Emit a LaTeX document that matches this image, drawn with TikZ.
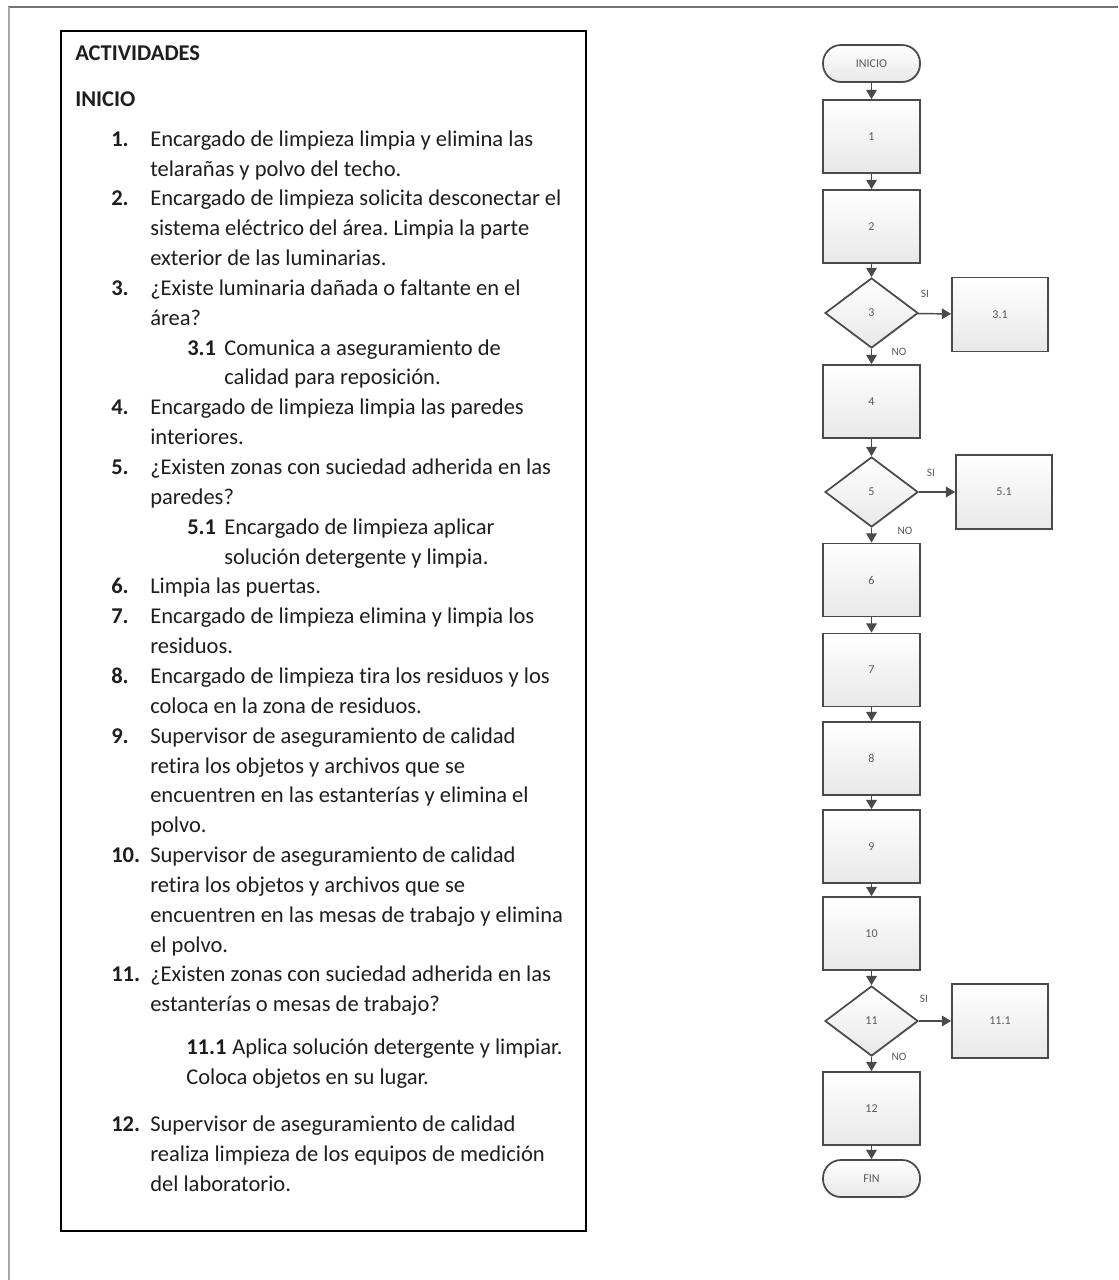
\documentclass[tikz,border=0pt]{standalone}
\usepackage{fontspec}
\setmainfont{Carlito}[Ligatures=NoCommon]
\usetikzlibrary{shapes.geometric,arrows.meta,shadows}
\definecolor{bordc}{HTML}{4A4A4A}
\definecolor{flowtxt}{HTML}{5A5A5A}
\definecolor{txtc}{HTML}{1E1E1E}
\frenchspacing
\begin{document}
\begin{tikzpicture}[x=0.75pt,y=-0.75pt,
  ln/.style={anchor=mid west,inner sep=0pt,text=txtc,font=\fontsize{16.9}{20}\selectfont},
  hd/.style={anchor=base west,inner sep=0pt,text=txtc,font=\fontsize{16.9}{20}\selectfont\bfseries},
  fbase/.style={draw=bordc,line width=1.3pt,top color=white,bottom color=black!9,
     text=flowtxt,font=\fontsize{9}{10}\selectfont,inner sep=0pt,
     drop shadow={shadow xshift=0.7pt,shadow yshift=-0.7pt,opacity=0.25}},
  proc/.style={fbase,rectangle,minimum width=72.75pt,minimum height=54.75pt},
  side/.style={fbase,rectangle,minimum width=72pt,minimum height=55.5pt},
  term/.style={fbase,rectangle,rounded corners=13.5pt,minimum width=72.75pt,minimum height=27.75pt},
  dec/.style={fbase,diamond,minimum width=69.75pt,minimum height=52.5pt},
  arr/.style={draw=bordc,line width=1.1pt,-{Triangle[width=8pt,length=7pt]}},
  lbl/.style={text=flowtxt,font=\fontsize{8.5}{9}\selectfont,inner sep=0pt}]
\useasboundingbox (0,0) rectangle (1118,1280);
\fill[white] (0,0) rectangle (1118,1280);
% page frame
\draw[black!55,line width=1.6pt] (8,7) -- (1118,7);
\draw[black!35,line width=2.2pt] (9,7) -- (9,1280);
% text box
\draw[black,line width=1.5pt] (61,31) rectangle (586,1231);

\node[hd] (hact) at (75,61) {ACTIVIDADES};
\node[hd] (hini) at (75,107) {INICIO};

\newcommand{\NumL}[4]{\node[ln,font=\fontsize{16.9}{20}\selectfont\bfseries] (#1n) at (111,#2) {#3};
  \node[ln] (#1t) at (150,#2) {#4};}
\newcommand{\SubL}[4]{\node[ln,font=\fontsize{16.9}{20}\selectfont\bfseries] (#1n) at (187,#2) {#3};
  \node[ln] (#1t) at (224,#2) {#4};}

\NumL{a1}{143.0}{1.}{Encargado de limpieza limpia y elimina las}
\node[ln] (a1b) at (150,172.9) {telarañas y polvo del techo.};
\NumL{a2}{202.7}{2.}{Encargado de limpieza solicita desconectar el}
\node[ln] (a2b) at (150,232.6) {sistema eléctrico del área. Limpia la parte};
\node[ln] (a2c) at (150,262.4) {exterior de las luminarias.};
\NumL{a3}{292.3}{3.}{¿Existe luminaria dañada o faltante en el}
\node[ln] (a3b) at (150,322.1) {área?};
\SubL{a31}{352.0}{3.1}{Comunica a aseguramiento de}
\node[ln] (a31b) at (224,381.8) {calidad para reposición.};
\NumL{a4}{411.7}{4.}{Encargado de limpieza limpia las paredes}
\node[ln] (a4b) at (150,441.5) {interiores.};
\NumL{a5}{471.4}{5.}{¿Existen zonas con suciedad adherida en las}
\node[ln] (a5b) at (150,501.2) {paredes?};
\SubL{a51}{531.1}{5.1}{Encargado de limpieza aplicar}
\node[ln] (a51b) at (224,560.9) {solución detergente y limpia.};
\NumL{a6}{590.8}{6.}{Limpia las puertas.}
\NumL{a7}{620.6}{7.}{Encargado de limpieza elimina y limpia los}
\node[ln] (a7b) at (150,650.5) {residuos.};
\NumL{a8}{680.3}{8.}{Encargado de limpieza tira los residuos y los}
\node[ln] (a8b) at (150,710.2) {coloca en la zona de residuos.};
\NumL{a9}{740.0}{9.}{Supervisor de aseguramiento de calidad}
\node[ln] (a9b) at (150,769.9) {retira los objetos y archivos que se};
\node[ln] (a9c) at (150,799.7) {encuentren en las estanterías y elimina el};
\node[ln] (a9d) at (150,829.6) {polvo.};
\NumL{a10}{859.4}{10.}{Supervisor de aseguramiento de calidad}
\node[ln] (a10b) at (150,889.3) {retira los objetos y archivos que se};
\node[ln] (a10c) at (150,919.1) {encuentren en las mesas de trabajo y elimina};
\node[ln] (a10d) at (150,949.0) {el polvo.};
\NumL{a11}{978.8}{11.}{¿Existen zonas con suciedad adherida en las}
\node[ln] (a11b) at (150,1008.7) {estanterías o mesas de trabajo?};
\node[ln,font=\fontsize{16.9}{20}\selectfont\bfseries] (a111n) at (186,1051) {11.1};
\node[ln] (a111t) at (232,1051) {Aplica solución detergente y limpiar.};
\node[ln] (a111b) at (186,1081) {Coloca objetos en su lugar.};
\NumL{a12}{1128}{12.}{Supervisor de aseguramiento de calidad}
\node[ln] (a12b) at (150,1158) {realiza limpieza de los equipos de medición};
\node[ln] (a12c) at (150,1188) {del laboratorio.};

% flowchart
\node[term] (ini) at (871.5,63.5) {INICIO};
\node[proc] (p1) at (871.5,136.5) {1};
\node[proc] (p2) at (871.5,226.5) {2};
\node[dec] (d3) at (871.5,313) {3};
\node[side] (p31) at (1000,314.5) {3.1};
\node[proc] (p4) at (871.5,401.5) {4};
\node[dec] (d5) at (871.5,492) {5};
\node[side] (p51) at (1004,492) {5.1};
\node[proc] (p6) at (871.5,580) {6};
\node[proc] (p7) at (871.5,670) {7};
\node[proc] (p8) at (871.5,758.5) {8};
\node[proc] (p9) at (871.5,846.5) {9};
\node[proc] (p10) at (871.5,933.5) {10};
\node[dec] (d11) at (871.5,1021) {11};
\node[side] (p111) at (1000,1021) {11.1};
\node[proc] (p12) at (871.5,1108.5) {12};
\node[term] (fin) at (871.5,1178.5) {FIN};

\draw[arr] (ini) -- (p1);
\draw[arr] (p1) -- (p2);
\draw[arr] (p2) -- (d3);
\draw[arr] (d3) -- (p31);
\draw[arr] (d3) -- (p4);
\draw[arr] (p4) -- (d5);
\draw[arr] (d5) -- (p51);
\draw[arr] (d5) -- (p6);
\draw[arr] (p6) -- (p7);
\draw[arr] (p7) -- (p8);
\draw[arr] (p8) -- (p9);
\draw[arr] (p9) -- (p10);
\draw[arr] (p10) -- (d11);
\draw[arr] (d11) -- (p111);
\draw[arr] (d11) -- (p12);
\draw[arr] (p12) -- (fin);

\node[lbl] (si3) at (925,294) {SI};
\node[lbl] (no3) at (899,352) {NO};
\node[lbl] (si5) at (931,473) {SI};
\node[lbl] (no5) at (905,531) {NO};
\node[lbl] (si11) at (924,999) {SI};
\node[lbl] (no11) at (899,1057) {NO};
\end{tikzpicture}
\end{document}
